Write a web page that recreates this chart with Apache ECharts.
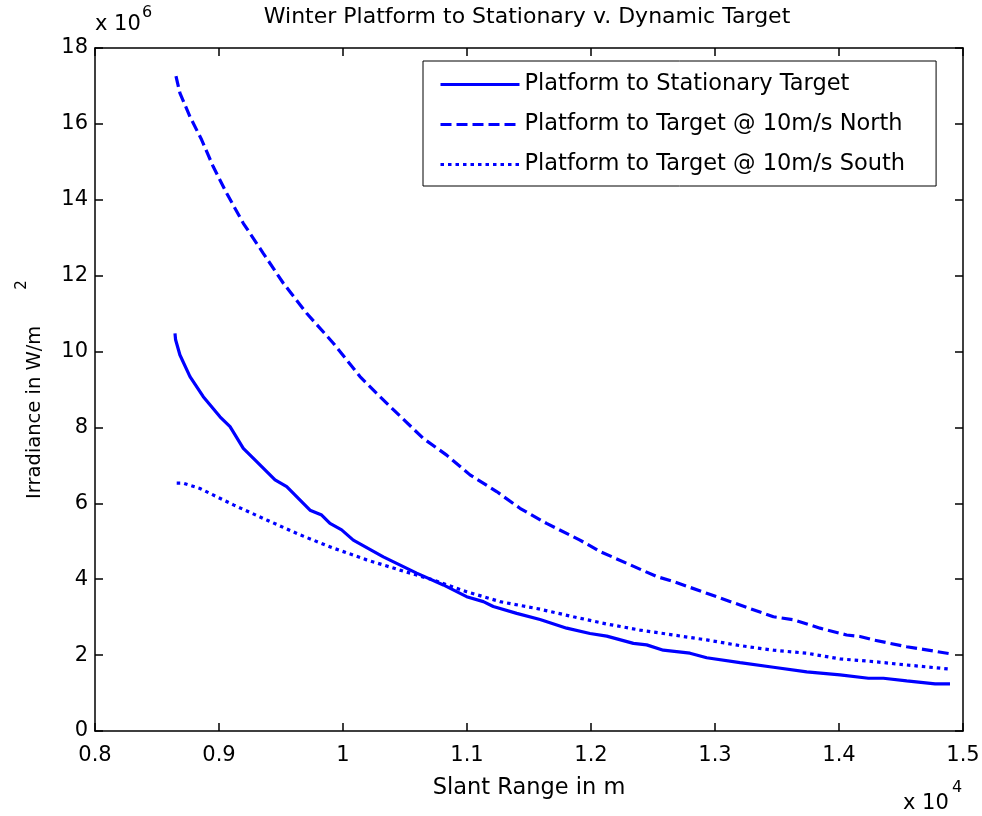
<!DOCTYPE html>
<html>
<head>
<meta charset="utf-8">
<script src="https://cdn.jsdelivr.net/npm/echarts@6/dist/echarts.min.js"></script>
<style>
html,body{margin:0;padding:0;background:#fff;}
#chart{width:982px;height:816px;}
</style>
</head>
<body>
<div id="chart"></div>
<script>
// Slant range in units of 10^4 m, irradiance in units of 10^6 W/m^2
var stationaryX = [0.8645,0.8650,0.8685,0.8766,0.8873,0.9008,0.9089,0.9196,0.9304,0.9452,0.9546,0.9734,0.9828,0.9895,0.9989,1.0083,1.0325,1.0594,1.0809,1.0997,1.1132,1.1212,1.1401,1.1589,1.1804,1.1992,1.2127,1.2342,1.2449,1.2583,1.2798,1.2933,1.3202,1.3471,1.3740,1.4008,1.4237,1.4358,1.4546,1.4775,1.4895];
var stationaryY = [10.48,10.31,9.91,9.34,8.81,8.28,8.02,7.45,7.10,6.62,6.44,5.82,5.69,5.47,5.30,5.03,4.59,4.16,3.85,3.54,3.41,3.28,3.10,2.94,2.71,2.57,2.50,2.31,2.27,2.13,2.05,1.93,1.80,1.68,1.56,1.48,1.39,1.39,1.32,1.24,1.24];

var northX = [0.8653,0.8685,0.8766,0.8860,0.8954,0.9062,0.9196,0.9357,0.9519,0.9707,0.9922,1.0137,1.0298,1.0460,1.0648,1.0836,1.1024,1.1239,1.1427,1.1642,1.1911,1.2073,1.2288,1.2530,1.2664,1.2933,1.3202,1.3471,1.3632,1.3847,1.4062,1.4169,1.4277,1.4546,1.4680,1.4909];
var northY = [17.26,16.81,16.19,15.58,14.87,14.17,13.38,12.59,11.80,11.01,10.22,9.34,8.81,8.30,7.71,7.27,6.75,6.31,5.87,5.47,5.03,4.73,4.42,4.07,3.94,3.63,3.32,3.01,2.93,2.71,2.53,2.49,2.40,2.22,2.15,2.03];

var southX = [0.8659,0.8712,0.8847,0.9116,0.9385,0.9653,0.9922,1.0191,1.0460,1.0729,1.0997,1.1266,1.1589,1.1858,1.2127,1.2395,1.2664,1.2933,1.3202,1.3471,1.3740,1.4008,1.4277,1.4546,1.4895];
var southY = [6.53,6.53,6.39,5.96,5.56,5.17,4.82,4.51,4.24,3.98,3.67,3.41,3.21,3.01,2.82,2.66,2.53,2.40,2.25,2.13,2.05,1.90,1.83,1.74,1.63];

var seriesNames = ['Platform to Stationary Target','Platform to Target @ 10m/s North','Platform to Target @ 10m/s South'];
var titleText = 'Winter Platform to Stationary v. Dynamic Target';
var xAxisName = 'Slant Range in m';
var yAxisName = 'Irradiance in W/m';

function pairs(xs, ys){ return xs.map(function(x,i){ return [x, ys[i]]; }); }

var FONT = 'DejaVu Sans';
var chart = echarts.init(document.getElementById('chart'), null, {renderer:'canvas'});

var axisCommon = {
  type:'value',
  axisLine:{show:true, onZero:false, lineStyle:{color:'#000', width:1.5}},
  axisTick:{show:true, inside:true, length:8, lineStyle:{color:'#000', width:1.5}},
  splitLine:{show:false}
};

var option = {
  backgroundColor:'#fff',
  animation:false,
  title:{
    text:titleText, left:527, top:6, textAlign:'center', padding:0,
    textStyle:{fontFamily:FONT, fontSize:22, fontWeight:'normal', color:'#000'}
  },
  legend:{
    orient:'vertical', left:423, top:61,
    padding:[12,31,10,16],
    itemWidth:79, itemHeight:20, itemGap:17,
    backgroundColor:'#fff', borderColor:'#000', borderWidth:1,
    itemStyle:{opacity:0, borderWidth:0},
    lineStyle:{width:3},
    textStyle:{fontFamily:FONT, fontSize:22.5, color:'#000', lineHeight:22, padding:[0,0,0,0]},
    data:seriesNames
  },
  grid:{left:95, right:19, top:48, bottom:85, containLabel:false, outerBoundsMode:'none'},
  xAxis:[
    Object.assign({}, axisCommon, {
      position:'bottom', min:0.8, max:1.5, interval:0.1,
      name:xAxisName, nameLocation:'middle', nameGap:46,
      nameTextStyle:{fontFamily:FONT, fontSize:22.5, color:'#000'},
      axisLabel:{fontFamily:FONT, fontSize:21, color:'#000', margin:14, showMinLabel:true, showMaxLabel:true, hideOverlap:false,
        formatter:function(v){ return (Math.round(v*10)/10).toString(); }}
    }),
    Object.assign({}, axisCommon, {
      position:'top', min:0.8, max:1.5, interval:0.1,
      axisLabel:{show:false}
    })
  ],
  yAxis:[
    Object.assign({}, axisCommon, {
      position:'left', min:0, max:18, interval:2,
      name:'{a|' + yAxisName + '}{b|2}', nameLocation:'middle', nameGap:50,
      nameTextStyle:{fontFamily:FONT, color:'#000', rich:{
        a:{fontFamily:FONT, fontSize:19.5, color:'#000', lineHeight:30, verticalAlign:'bottom'},
        b:{fontFamily:FONT, fontSize:15, color:'#000', lineHeight:30, verticalAlign:'top', padding:[0,0,0,36]}
      }},
      axisLabel:{fontFamily:FONT, fontSize:21, color:'#000', margin:7, showMinLabel:true, showMaxLabel:true, hideOverlap:false}
    }),
    Object.assign({}, axisCommon, {
      position:'right', min:0, max:18, interval:2,
      axisLabel:{show:false}
    })
  ],
  graphic:[
    {type:'text', left:95, top:14, style:{text:'x 10', fontFamily:FONT, fontSize:21, fill:'#000'}},
    {type:'text', left:142, top:5, style:{text:'6', fontFamily:FONT, fontSize:16, fill:'#000'}},
    {type:'text', left:903, top:793, style:{text:'x 10', fontFamily:FONT, fontSize:21, fill:'#000'}},
    {type:'text', left:952, top:780, style:{text:'4', fontFamily:FONT, fontSize:16, fill:'#000'}}
  ],
  series:[
    {name:seriesNames[0], type:'line', xAxisIndex:0, yAxisIndex:0, symbol:'none', smooth:false,
     lineStyle:{color:'#0000ff', width:3.2, type:'solid'}, itemStyle:{color:'#0000ff'},
     data:pairs(stationaryX, stationaryY)},
    {name:seriesNames[1], type:'line', xAxisIndex:0, yAxisIndex:0, symbol:'none', smooth:false,
     lineStyle:{color:'#0000ff', width:3.2, type:[11,5]}, itemStyle:{color:'#0000ff'},
     data:pairs(northX, northY)},
    {name:seriesNames[2], type:'line', xAxisIndex:0, yAxisIndex:0, symbol:'none', smooth:false,
     lineStyle:{color:'#0000ff', width:3.2, type:[3.5,4]}, itemStyle:{color:'#0000ff'},
     data:pairs(southX, southY)}
  ]
};
chart.setOption(option);
</script>
</body>
</html>
